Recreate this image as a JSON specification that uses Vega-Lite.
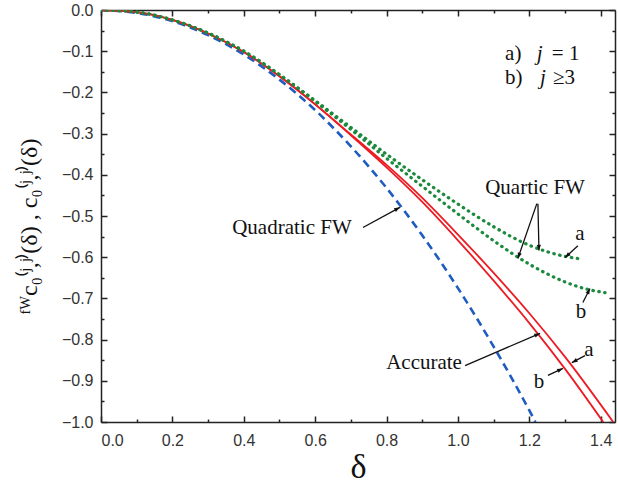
{
  "$schema": "https://vega.github.io/schema/vega-lite/v6.json",
  "width": 514,
  "height": 412,
  "autosize": "none",
  "padding": {"left": 101, "top": 10, "right": 3, "bottom": 68},
  "datasets": {
    "curves": [
      {"s": "quad", "d": 0, "v": 0}, {"s": "quad", "d": 0.1, "v": -0.007}, {"s": "quad", "d": 0.2, "v": -0.027}, {"s": "quad", "d": 0.3, "v": -0.061}, {"s": "quad", "d": 0.4, "v": -0.108}, {"s": "quad", "d": 0.5, "v": -0.169}, {"s": "quad", "d": 0.6, "v": -0.243}, {"s": "quad", "d": 0.7, "v": -0.331}, {"s": "quad", "d": 0.8, "v": -0.432}, {"s": "quad", "d": 0.9, "v": -0.547}, {"s": "quad", "d": 1.0, "v": -0.675}, {"s": "quad", "d": 1.1, "v": -0.817}, {"s": "quad", "d": 1.2, "v": -0.972}, {"s": "quad", "d": 1.217, "v": -1.0},
      {"s": "accA", "d": 0, "v": 0}, {"s": "accA", "d": 0.1, "v": -0.005}, {"s": "accA", "d": 0.2, "v": -0.024}, {"s": "accA", "d": 0.3, "v": -0.057}, {"s": "accA", "d": 0.4, "v": -0.102}, {"s": "accA", "d": 0.5, "v": -0.161}, {"s": "accA", "d": 0.6, "v": -0.229}, {"s": "accA", "d": 0.7, "v": -0.302}, {"s": "accA", "d": 0.8, "v": -0.376}, {"s": "accA", "d": 0.9, "v": -0.456}, {"s": "accA", "d": 1.0, "v": -0.545}, {"s": "accA", "d": 1.1, "v": -0.638}, {"s": "accA", "d": 1.2, "v": -0.736}, {"s": "accA", "d": 1.3, "v": -0.842}, {"s": "accA", "d": 1.435, "v": -1.0},
      {"s": "accB", "d": 0, "v": 0}, {"s": "accB", "d": 0.1, "v": -0.005}, {"s": "accB", "d": 0.2, "v": -0.024}, {"s": "accB", "d": 0.3, "v": -0.057}, {"s": "accB", "d": 0.4, "v": -0.102}, {"s": "accB", "d": 0.5, "v": -0.161}, {"s": "accB", "d": 0.6, "v": -0.229}, {"s": "accB", "d": 0.7, "v": -0.304}, {"s": "accB", "d": 0.8, "v": -0.382}, {"s": "accB", "d": 0.9, "v": -0.466}, {"s": "accB", "d": 1.0, "v": -0.559}, {"s": "accB", "d": 1.1, "v": -0.657}, {"s": "accB", "d": 1.2, "v": -0.76}, {"s": "accB", "d": 1.3, "v": -0.871}, {"s": "accB", "d": 1.407, "v": -1.0},
      {"s": "quarA", "d": 0, "v": 0}, {"s": "quarA", "d": 0.1, "v": -0.005}, {"s": "quarA", "d": 0.2, "v": -0.024}, {"s": "quarA", "d": 0.3, "v": -0.056}, {"s": "quarA", "d": 0.4, "v": -0.1}, {"s": "quarA", "d": 0.5, "v": -0.157}, {"s": "quarA", "d": 0.6, "v": -0.22}, {"s": "quarA", "d": 0.7, "v": -0.285}, {"s": "quarA", "d": 0.8, "v": -0.35}, {"s": "quarA", "d": 0.9, "v": -0.412}, {"s": "quarA", "d": 1.0, "v": -0.471}, {"s": "quarA", "d": 1.1, "v": -0.526}, {"s": "quarA", "d": 1.2, "v": -0.571}, {"s": "quarA", "d": 1.3, "v": -0.598}, {"s": "quarA", "d": 1.342, "v": -0.604},
      {"s": "quarB", "d": 0, "v": 0}, {"s": "quarB", "d": 0.1, "v": -0.005}, {"s": "quarB", "d": 0.2, "v": -0.024}, {"s": "quarB", "d": 0.3, "v": -0.056}, {"s": "quarB", "d": 0.4, "v": -0.1}, {"s": "quarB", "d": 0.5, "v": -0.157}, {"s": "quarB", "d": 0.6, "v": -0.222}, {"s": "quarB", "d": 0.7, "v": -0.29}, {"s": "quarB", "d": 0.8, "v": -0.36}, {"s": "quarB", "d": 0.9, "v": -0.428}, {"s": "quarB", "d": 1.0, "v": -0.495}, {"s": "quarB", "d": 1.1, "v": -0.56}, {"s": "quarB", "d": 1.2, "v": -0.617}, {"s": "quarB", "d": 1.3, "v": -0.66}, {"s": "quarB", "d": 1.35, "v": -0.675}, {"s": "quarB", "d": 1.412, "v": -0.686}
    ],
    "labels": [
      {"g": "c", "d": 0.535, "v": -0.53, "t": "Quadratic FW"},
      {"g": "c", "d": 0.905, "v": -0.858, "t": "Accurate"},
      {"g": "c", "d": 1.216, "v": -0.431, "t": "Quartic FW"},
      {"g": "c", "d": 1.342, "v": -0.543, "t": "a"},
      {"g": "c", "d": 1.345, "v": -0.734, "t": "b"},
      {"g": "c", "d": 1.367, "v": -0.826, "t": "a"},
      {"g": "c", "d": 1.227, "v": -0.902, "t": "b"},
      {"g": "l", "d": 1.132, "v": -0.108, "t": "a)"},
      {"g": "l", "d": 1.263, "v": -0.108, "t": "= 1"},
      {"g": "l", "d": 1.132, "v": -0.166, "t": "b)"},
      {"g": "l", "d": 1.266, "v": -0.166, "t": "≥3"},
      {"g": "i", "d": 1.221, "v": -0.108, "t": "j"},
      {"g": "i", "d": 1.23, "v": -0.166, "t": "j"}
    ],
    "arrows": [
      {"d": 0.734, "v": -0.528, "d2": 0.8375, "v2": -0.479},
      {"d": 1.02, "v": -0.863, "d2": 1.23, "v2": -0.785},
      {"d": 1.356, "v": -0.839, "d2": 1.319, "v2": -0.856},
      {"d": 1.252, "v": -0.887, "d2": 1.294, "v2": -0.87},
      {"d": 1.336, "v": -0.572, "d2": 1.3, "v2": -0.601},
      {"d": 1.35, "v": -0.71, "d2": 1.37, "v2": -0.676},
      {"d": 1.221, "v": -0.47, "d2": 1.168, "v2": -0.603},
      {"d": 1.224, "v": -0.47, "d2": 1.227, "v2": -0.584}
    ]
  },
  "data": {"name": "curves"},
  "layer": [
    {
      "transform": [{"filter": "datum.s == 'quad'"}],
      "mark": {"type": "line", "color": "#1f5cbf", "strokeWidth": 2.6, "strokeDash": [8, 5], "interpolate": "monotone", "clip": true},
      "encoding": {
        "x": {"field": "d", "type": "quantitative", "scale": {"domain": [0, 1.44], "nice": false, "zero": false},
          "axis": {"orient": "bottom", "values": [0, 0.2, 0.4, 0.6, 0.8, 1.0, 1.2, 1.4], "format": ".1f", "ticks": false, "labelPadding": 10, "domain": true, "title": "δ", "titleFont": "Liberation Serif", "titleFontSize": 34, "titleFontWeight": "normal", "titleColor": "#111", "titlePadding": 2}},
        "y": {"field": "v", "type": "quantitative", "scale": {"domain": [-1, 0], "nice": false, "zero": false},
          "axis": {"orient": "left", "values": [0, -0.1, -0.2, -0.3, -0.4, -0.5, -0.6, -0.7, -0.8, -0.9, -1], "format": ".1f", "ticks": false, "labelPadding": 8, "domain": true,
            "title": "ᶠᵂc₀⁽ʲ,ʲ⁾(δ) , c₀⁽ʲ,ʲ⁾(δ)", "titleFont": "Liberation Serif", "titleFontSize": 24, "titleFontWeight": "normal", "titleColor": "#111", "titleX": -72, "titleY": 216, "titleAngle": 270, "titleBaseline": "middle", "titleAlign": "center"}}
      }
    },
    {
      "transform": [{"filter": "datum.s == 'accA'"}],
      "mark": {"type": "line", "color": "#ec1c24", "strokeWidth": 1.8, "interpolate": "monotone", "clip": true},
      "encoding": {
        "x": {"field": "d", "type": "quantitative", "scale": {"domain": [0, 1.44], "nice": false, "zero": false},
          "axis": {"orient": "bottom", "values": [0, 0.2, 0.4, 0.6, 0.8, 1.0, 1.2, 1.4], "labels": false, "domain": false, "tickSize": -6, "title": null}},
        "y": {"field": "v", "type": "quantitative", "scale": {"domain": [-1, 0], "nice": false, "zero": false},
          "axis": {"orient": "left", "values": [0, -0.1, -0.2, -0.3, -0.4, -0.5, -0.6, -0.7, -0.8, -0.9, -1], "labels": false, "domain": false, "tickSize": -6, "title": null}}
      }
    },
    {
      "transform": [{"filter": "datum.s == 'accB'"}],
      "mark": {"type": "line", "color": "#ec1c24", "strokeWidth": 1.8, "interpolate": "monotone", "clip": true},
      "encoding": {
        "x": {"field": "d", "type": "quantitative", "scale": {"domain": [0, 1.44], "nice": false, "zero": false},
          "axis": {"orient": "bottom", "values": [0.1, 0.3, 0.5, 0.7, 0.9, 1.1, 1.3], "labels": false, "domain": false, "tickSize": -3, "title": null}},
        "y": {"field": "v", "type": "quantitative", "scale": {"domain": [-1, 0], "nice": false, "zero": false},
          "axis": {"orient": "left", "values": [-0.05, -0.15, -0.25, -0.35, -0.45, -0.55, -0.65, -0.75, -0.85, -0.95], "labels": false, "domain": false, "tickSize": -3, "title": null}}
      }
    },
    {
      "transform": [{"filter": "datum.s == 'quarA'"}],
      "mark": {"type": "line", "color": "#1a8a3c", "strokeWidth": 3.2, "strokeDash": [0.5, 5.5], "strokeCap": "round", "interpolate": "monotone", "clip": true},
      "encoding": {
        "x": {"field": "d", "type": "quantitative", "scale": {"domain": [0, 1.44], "nice": false, "zero": false},
          "axis": {"orient": "top", "values": [0, 0.2, 0.4, 0.6, 0.8, 1.0, 1.2, 1.4], "labels": false, "domain": true, "tickSize": -6, "title": null}},
        "y": {"field": "v", "type": "quantitative", "scale": {"domain": [-1, 0], "nice": false, "zero": false},
          "axis": {"orient": "right", "values": [0, -0.1, -0.2, -0.3, -0.4, -0.5, -0.6, -0.7, -0.8, -0.9, -1], "labels": false, "domain": true, "tickSize": -6, "title": null}}
      }
    },
    {
      "transform": [{"filter": "datum.s == 'quarB'"}],
      "mark": {"type": "line", "color": "#1a8a3c", "strokeWidth": 3.2, "strokeDash": [0.5, 5.5], "strokeCap": "round", "interpolate": "monotone", "clip": true},
      "encoding": {
        "x": {"field": "d", "type": "quantitative", "scale": {"domain": [0, 1.44], "nice": false, "zero": false},
          "axis": {"orient": "top", "values": [0.1, 0.3, 0.5, 0.7, 0.9, 1.1, 1.3], "labels": false, "domain": false, "tickSize": -3, "title": null}},
        "y": {"field": "v", "type": "quantitative", "scale": {"domain": [-1, 0], "nice": false, "zero": false},
          "axis": {"orient": "right", "values": [-0.05, -0.15, -0.25, -0.35, -0.45, -0.55, -0.65, -0.75, -0.85, -0.95], "labels": false, "domain": false, "tickSize": -3, "title": null}}
      }
    },
    {
      "data": {"name": "arrows"},
      "mark": {"type": "rule", "color": "#111", "strokeWidth": 1.3},
      "encoding": {
        "x": {"field": "d", "type": "quantitative", "scale": {"domain": [0, 1.44], "nice": false, "zero": false}, "axis": null},
        "y": {"field": "v", "type": "quantitative", "scale": {"domain": [-1, 0], "nice": false, "zero": false}, "axis": null},
        "x2": {"field": "d2"},
        "y2": {"field": "v2"}
      }
    },
    {
      "data": {"name": "arrows"},
      "transform": [{"calculate": "atan2((datum.d2 - datum.d) * 357, (datum.v2 - datum.v) * 412) * 180 / PI", "as": "ang"}],
      "mark": {"type": "point", "shape": "M0,0L-0.4,1.1L0.4,1.1Z", "filled": true, "color": "#111", "size": 110, "opacity": 1},
      "encoding": {
        "x": {"field": "d2", "type": "quantitative", "scale": {"domain": [0, 1.44], "nice": false, "zero": false}, "axis": null},
        "y": {"field": "v2", "type": "quantitative", "scale": {"domain": [-1, 0], "nice": false, "zero": false}, "axis": null},
        "angle": {"field": "ang", "type": "quantitative", "scale": null}
      }
    },
    {
      "data": {"name": "labels"},
      "transform": [{"filter": "datum.g == 'c'"}],
      "mark": {"type": "text", "font": "Liberation Serif", "fontSize": 21, "color": "#111", "align": "center", "baseline": "middle"},
      "encoding": {
        "x": {"field": "d", "type": "quantitative", "scale": {"domain": [0, 1.44], "nice": false, "zero": false}, "axis": null},
        "y": {"field": "v", "type": "quantitative", "scale": {"domain": [-1, 0], "nice": false, "zero": false}, "axis": null},
        "text": {"field": "t"}
      }
    },
    {
      "data": {"name": "labels"},
      "transform": [{"filter": "datum.g == 'l'"}],
      "mark": {"type": "text", "font": "Liberation Serif", "fontSize": 21, "color": "#111", "align": "left", "baseline": "middle"},
      "encoding": {
        "x": {"field": "d", "type": "quantitative", "scale": {"domain": [0, 1.44], "nice": false, "zero": false}, "axis": null},
        "y": {"field": "v", "type": "quantitative", "scale": {"domain": [-1, 0], "nice": false, "zero": false}, "axis": null},
        "text": {"field": "t"}
      }
    },
    {
      "data": {"name": "labels"},
      "transform": [{"filter": "datum.g == 'i'"}],
      "mark": {"type": "text", "font": "Liberation Serif", "fontSize": 21, "fontStyle": "italic", "color": "#111", "align": "left", "baseline": "middle"},
      "encoding": {
        "x": {"field": "d", "type": "quantitative", "scale": {"domain": [0, 1.44], "nice": false, "zero": false}, "axis": null},
        "y": {"field": "v", "type": "quantitative", "scale": {"domain": [-1, 0], "nice": false, "zero": false}, "axis": null},
        "text": {"field": "t"}
      }
    }
  ],
  "resolve": {"axis": {"x": "independent", "y": "independent"}},
  "config": {
    "view": {"stroke": null},
    "axis": {"grid": false, "domainColor": "#222", "domainWidth": 1.5, "tickColor": "#222", "tickWidth": 1.5, "labelFont": "Liberation Sans", "labelFontSize": 16, "labelColor": "#333"}
  }
}
